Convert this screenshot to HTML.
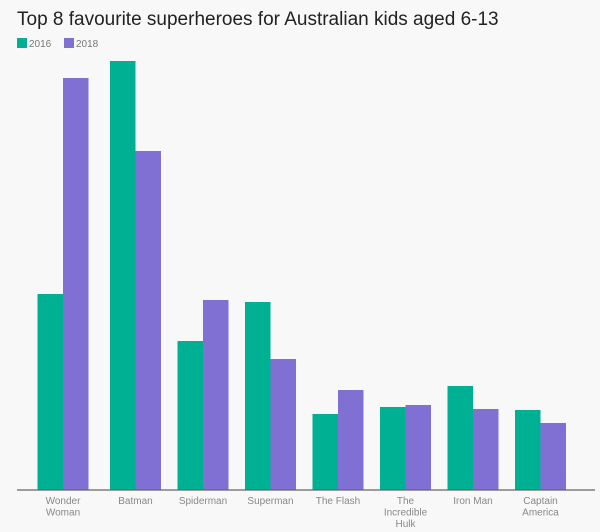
<!DOCTYPE html>
<html><head><meta charset="utf-8"><style>
body{margin:0;background:#f8f8f8;font-family:"Liberation Sans",Arial,sans-serif;}
#wrap{position:relative;width:600px;height:532px;overflow:hidden;background:#f8f8f8}
</style></head><body>
<div id="wrap">
<svg id="svg" width="600" height="532">
<text x="17" y="25" font-size="19" fill="#222">Top 8 favourite superheroes for Australian kids aged 6-13</text>
<g>
<rect x="17" y="38" width="10" height="10" fill="#00b092"/>
<text x="29" y="47" font-size="10" fill="#777">2016</text>
<rect x="64" y="38" width="10" height="10" fill="#8070d4"/>
<text x="76" y="47" font-size="10" fill="#777">2018</text>
</g>
<g id="bars"></g>
<line x1="17" y1="490" x2="595" y2="490" stroke="#666" stroke-width="1.2"/>
<g id="labels"></g>
</svg>
</div>
<script>
const categories=[["Wonder","Woman"],["Batman"],["Spiderman"],["Superman"],["The Flash"],["The","Incredible","Hulk"],["Iron Man"],["Captain","America"]];
const s2016=[19.6,42.9,14.9,18.8,7.6,8.3,10.4,8.0];
const s2018=[41.2,33.9,19.0,13.1,10.0,8.5,8.1,6.7];
const colors=["#00b092","#8070d4"];
const NS="http://www.w3.org/2000/svg";
const base=490, pxPerUnit=10, barW=25.5;
function x(i){return i===0?63:67.5*i+67.5+0.5;}
function y(v){return base-v*pxPerUnit;}
const bars=document.getElementById('bars'),labels=document.getElementById('labels');
[s2016,s2018].forEach((s,k)=>{
 s.forEach((v,i)=>{
  const r=document.createElementNS(NS,'rect');
  r.setAttribute('x',x(i)-barW+k*barW);
  r.setAttribute('y',y(v));
  r.setAttribute('width',barW);
  r.setAttribute('height',base-y(v));
  r.setAttribute('fill',colors[k]);
  
  
  bars.appendChild(r);
 });
});
categories.forEach((c,i)=>{
 const t=document.createElementNS(NS,'text');
 t.setAttribute('text-anchor','middle');
 t.setAttribute('font-size','10');
 t.setAttribute('fill','#888');
 
 
 c.forEach((line,j)=>{
  const ts=document.createElementNS(NS,'tspan');
  ts.setAttribute('x',x(i));
  ts.setAttribute('y',504+j*11.5);
  ts.textContent=line;
  t.appendChild(ts);
 });
 labels.appendChild(t);
});
</script>
</body></html>
